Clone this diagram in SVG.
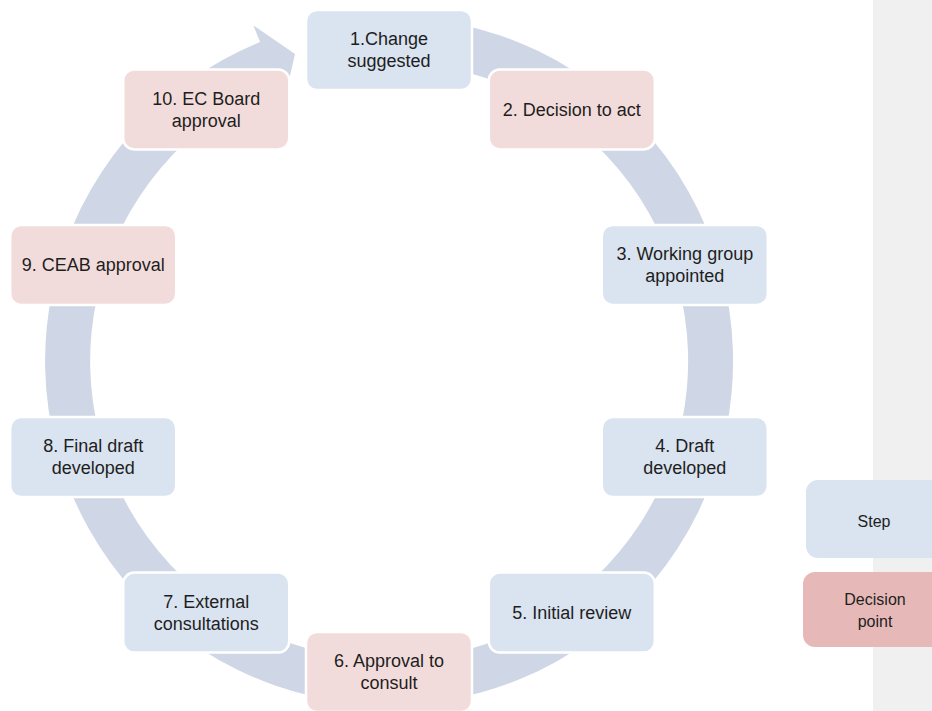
<svg xmlns="http://www.w3.org/2000/svg" width="932" height="711" viewBox="0 0 932 711">
  <style>
    .step { fill: #DAE3F0; stroke: #FFFFFF; stroke-width: 2.5; }
    .decision { fill: #F2DCDB; stroke: #FFFFFF; stroke-width: 2.5; }
    .label { font-family: "Liberation Sans", Arial, sans-serif; font-size: 18px; fill: #1E1E1E; text-anchor: middle; }
    .legend-label { font-family: "Liberation Sans", Arial, sans-serif; font-size: 16px; fill: #1E1E1E; text-anchor: middle; }
    .band { fill: #CFD6E5; stroke: none; }
  </style>

  <rect x="0" y="0" width="932" height="711" fill="#FFFFFF"/>

  <!-- legend panel -->
  <rect x="873" y="0" width="59" height="711" fill="#F0F0F0"/>

  <!-- circular arrow running clockwise round the steps -->
  <g id="connectors">
    <path class="band" d="M419.0,18.3 A344,344 0 1 1 260.1,42.1 L253.4,25.4 L295,54 L284.1,101.4 L277.0,83.8 A299,299 0 1 0 415.1,63.1 Z"/>
  </g>

  <g id="node-1">
    <rect class="step" x="306" y="10" width="166" height="80" rx="11"/>
    <text class="label" x="389" y="45.3">1.Change</text>
    <text class="label" x="389" y="67.3">suggested</text>
  </g>

  <g id="node-2">
    <rect class="decision" x="488.8" y="69.4" width="166" height="80" rx="11"/>
    <text class="label" x="571.8" y="115.7">2. Decision to act</text>
  </g>

  <g id="node-3">
    <rect class="step" x="601.8" y="224.9" width="166" height="80" rx="11"/>
    <text class="label" x="684.8" y="260.2">3. Working group</text>
    <text class="label" x="684.8" y="282.2">appointed</text>
  </g>

  <g id="node-4">
    <rect class="step" x="601.8" y="417.1" width="166" height="80" rx="11"/>
    <text class="label" x="684.8" y="452.4">4. Draft</text>
    <text class="label" x="684.8" y="474.4">developed</text>
  </g>

  <g id="node-5">
    <rect class="step" x="488.8" y="572.6" width="166" height="80" rx="11"/>
    <text class="label" x="571.8" y="618.9">5. Initial review</text>
  </g>

  <g id="node-6">
    <rect class="decision" x="306" y="632" width="166" height="80" rx="11"/>
    <text class="label" x="389" y="667.3">6. Approval to</text>
    <text class="label" x="389" y="689.3">consult</text>
  </g>

  <g id="node-7">
    <rect class="step" x="123.2" y="572.6" width="166" height="80" rx="11"/>
    <text class="label" x="206.2" y="607.9">7. External</text>
    <text class="label" x="206.2" y="629.9">consultations</text>
  </g>

  <g id="node-8">
    <rect class="step" x="10.2" y="417.1" width="166" height="80" rx="11"/>
    <text class="label" x="93.2" y="452.4">8. Final draft</text>
    <text class="label" x="93.2" y="474.4">developed</text>
  </g>

  <g id="node-9">
    <rect class="decision" x="10.2" y="224.9" width="166" height="80" rx="11"/>
    <text class="label" x="93.2" y="271.2">9. CEAB approval</text>
  </g>

  <g id="node-10">
    <rect class="decision" x="123.2" y="69.4" width="166" height="80" rx="11"/>
    <text class="label" x="206.2" y="104.7">10. EC Board</text>
    <text class="label" x="206.2" y="126.7">approval</text>
  </g>

  <!-- legend -->
  <g id="legend-step">
    <rect x="806" y="480" width="150" height="78" rx="12" fill="#DAE3F0"/>
    <text class="legend-label" x="874" y="527">Step</text>
  </g>
  <g id="legend-decision">
    <rect x="803" y="572" width="153" height="75" rx="12" fill="#E6B9B8"/>
    <text class="legend-label" x="875" y="604.5">Decision</text>
    <text class="legend-label" x="875" y="627">point</text>
  </g>
</svg>
